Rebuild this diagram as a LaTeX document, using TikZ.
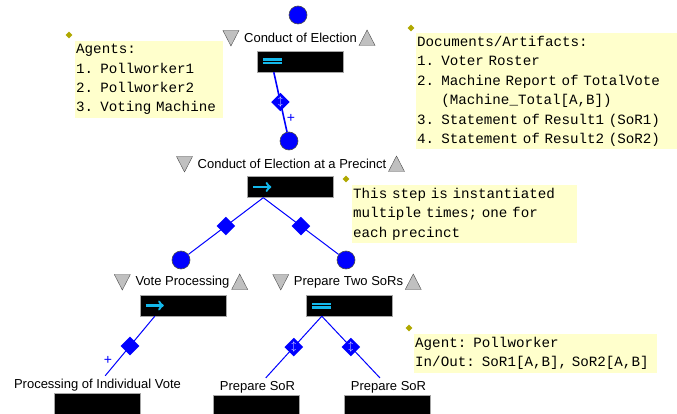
\documentclass[tikz,border=0pt]{standalone}
\usepackage{fontspec}
\setmainfont{Liberation Sans}
\setmonofont{Liberation Mono}
\usetikzlibrary{positioning, shapes.geometric, arrows}

\definecolor{notebg}{RGB}{255,255,204}
\definecolor{notedot}{RGB}{176,168,0}
\definecolor{glyph}{RGB}{20,184,235}
\definecolor{trifill}{RGB}{192,192,192}

\tikzset{
  stepdot/.style={circle, fill=blue, draw=black!70, line width=0.6pt, minimum size=18pt, inner sep=0pt},
  stepbox/.style={rectangle, fill=black, draw=gray!70, minimum width=86pt, minimum height=21pt, inner sep=0pt},
  steplbl/.style={font=\fontsize{13}{15}\selectfont, inner sep=0pt},
  leaflbl/.style={steplbl, inner ysep=3pt},
  notebox/.style={fill=notebg, font=\fontsize{14.2}{19.4}\selectfont\ttfamily, align=left, anchor=north west, inner xsep=1pt, inner ysep=3pt},
  notemark/.style={diamond, fill=notedot, minimum size=7pt, inner sep=0pt},
  reqmark/.style={diamond, fill=blue, minimum size=19pt, inner sep=0pt},
  optmark/.style={diamond, fill=blue, minimum size=19pt, inner sep=0pt, text=white, font=\fontsize{10}{10}\selectfont},
  link/.style={draw=blue, line width=1pt},
  plusmark/.style={text=blue, font=\fontsize{14}{14}\selectfont, inner sep=0pt},
  seqglyph/.style={draw=glyph, line width=2.4pt, ->},
  parglyph/.style={draw=glyph, line width=2.4pt},
  tridown/.pic={\filldraw[fill=trifill, draw=gray!60!black] (-8,-7.5) -- (8,-7.5) -- (0,8) -- cycle;},
  triup/.pic={\filldraw[fill=trifill, draw=gray!60!black] (-8,7.5) -- (8,7.5) -- (0,-8) -- cycle;}
}

\begin{document}
\begin{tikzpicture}[x=1pt, y=-1pt]
\useasboundingbox (0,0) rectangle (677,414);
% top step
\node[stepdot] (c1) at (298,15) {};
\node[steplbl] (l1) at (300.5,38) {Conduct of Election};
\node[stepbox] (b1) at (300,61.5) {};
\node[stepdot] (c2) at (289,141) {};
% one precinct
\node[steplbl] (l2) at (292,164) {Conduct of Election at a Precinct};
\node[stepbox] (b2) at (290.5,187) {};
\node[stepdot] (c3) at (181,260) {};
\node[stepdot] (c4) at (346,260) {};
% sub steps
\node[steplbl] (l3) at (182.5,282) {Vote Processing};
\node[stepbox] (b3) at (183,305.5) {};
\node[steplbl] (l4) at (348.5,282) {Prepare Two SoRs};
\node[stepbox] (b4) at (349,305.5) {};
% leaves
\node[leaflbl] (l5) at (97.5,385) {Processing of Individual Vote};
\node[stepbox] (b5) at (97,403.5) {};
\node[leaflbl] (l6) at (257.5,387) {Prepare SoR};
\node[stepbox] (b6) at (256.5,405.5) {};
\node[leaflbl] (l7) at (388.5,387) {Prepare SoR};
\node[stepbox] (b7) at (387.5,405.5) {};
% collapse / expand marks
\foreach \l in {l1,l2,l3,l4} {
  \path (\l.west) ++(-13,0) pic {tridown};
  \path (\l.east) ++(10,0) pic {triup};
}
% kind of step
\draw[parglyph] ([xshift=6pt,yshift=1.8pt]b1.west) -- ++(19,0)
                ([xshift=6pt,yshift=-1.8pt]b1.west) -- ++(19,0)
                ([xshift=6pt,yshift=1.8pt]b4.west) -- ++(19,0)
                ([xshift=6pt,yshift=-1.8pt]b4.west) -- ++(19,0);
\draw[seqglyph] ([xshift=6pt]b2.west) -- ++(18,0);
\draw[seqglyph] ([xshift=6pt]b3.west) -- ++(18,0);
% connectors
\draw[link, line width=1.6pt] ([xshift=17pt]b1.south west) -- node[optmark]{$\updownarrow$} node[plusmark, pos=.78, right=2pt]{+} (c2);
\draw[link] ([xshift=16pt]b2.south west) -- node[reqmark]{} (c3)
            ([xshift=16pt]b2.south west) -- node[reqmark]{} (c4);
\draw[link] ([xshift=15pt]b3.south west) -- node[reqmark]{} node[plusmark, pos=.75, left=5pt]{+} (l5);
\draw[link] ([xshift=16pt]b4.south west) -- node[optmark]{$\updownarrow$} (l6)
            ([xshift=16pt]b4.south west) -- node[optmark]{$\updownarrow$} (l7);
% notes
\node[notemark] (m1) at (69,35) {};
\node[notebox, text width=146pt] (n1) at (75,41) {Agents:\\1. Pollworker1\\2. Pollworker2\\3. Voting Machine};
\node[notemark] (m2) at (411,28) {};
\node[notebox, text width=259pt] (n2) at (416,33) {Documents/Artifacts:\\1. Voter Roster\\2. Machine Report of TotalVote\\\hphantom{2. }(Machine\_Total[A,B])\\3. Statement of Result1 (SoR1)\\4. Statement of Result2 (SoR2)};
\node[notemark] (m3) at (346,179) {};
\node[notebox, text width=223pt] (n3) at (352,185) {This step is instantiated\\multiple times; one for\\each precinct};
\node[notemark] (m4) at (409,328) {};
\node[notebox, text width=241pt] (n4) at (414,334) {Agent: Pollworker\\In/Out: SoR1[A,B], SoR2[A,B]};
\end{tikzpicture}
\end{document}
